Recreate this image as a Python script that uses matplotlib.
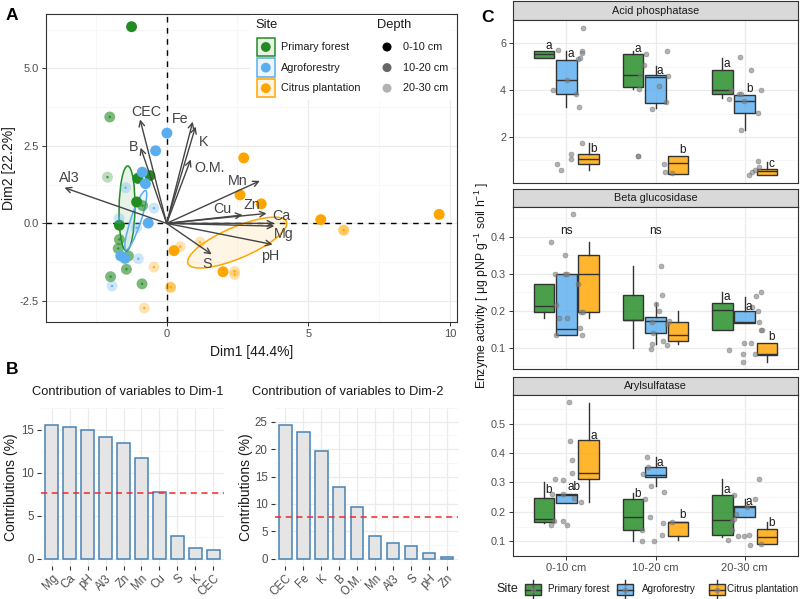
import matplotlib
matplotlib.use("Agg")
import matplotlib.pyplot as plt
from matplotlib.patches import Ellipse, Rectangle
from matplotlib.colors import to_rgba

plt.rcParams['font.family'] = ['Liberation Sans', 'DejaVu Sans']
plt.rcParams['mathtext.fontset'] = 'custom'
plt.rcParams['mathtext.rm'] = 'Liberation Sans'
plt.rcParams['mathtext.default'] = 'regular'

W, H = 800, 599

# ---------------- data ----------------
site_names = ['Primary forest', 'Agroforestry', 'Citrus plantation']
site_colors = ['#228B22', '#5AAEEF', '#FFA500']
depth_labels = ['0-10 cm', '10-20 cm', '20-30 cm']
depth_alpha = [1.0, 0.6, 0.3]

# PCA individuals (Dim1, Dim2, depth index)
forest_dim1 = [-1.24, -2.01, -2.09, -1.02, -0.59, -1.06, -0.85, -1.67, -1.67, -1.71, -1.35, -1.42, -1.98, -0.87]
forest_dim2 = [6.34, 3.43, 1.49, 1.45, 1.54, 0.69, 0.57, -0.06, -0.52, -0.81, -1.05, -1.48, -1.72, -1.95]
forest_depth = [0, 1, 2, 0, 0, 0, 1, 0, 1, 1, 1, 1, 1, 1]
agro_dim1 = [0.01, -0.39, -0.86, -0.75, -0.45, -0.65, -1.45, -1.68, -1.06, -1.62, -1.47, -1.00, -1.93]
agro_dim2 = [2.91, 2.34, 1.65, 1.28, 0.49, 0.01, 1.15, 0.16, -0.14, -1.05, -1.13, -1.14, -2.02]
agro_depth = [0, 0, 0, 0, 2, 0, 2, 2, 2, 0, 0, 2, 2]
citrus_dim1 = [2.72, 2.59, 3.34, 5.44, 6.25, 9.62, 1.18, 0.26, 0.48, -0.45, 0.14, 1.99, 2.40, 2.40, -0.79]
citrus_dim2 = [2.11, 0.92, 0.63, 0.12, -0.22, 0.29, -0.61, -0.88, -0.75, -1.41, -2.06, -1.56, -1.55, -1.65, -2.73]
citrus_depth = [0, 0, 0, 0, 1, 0, 2, 0, 2, 2, 1, 0, 2, 2, 2]

# concentration ellipses: centre x, centre y, major, minor, angle
ellipse_cx = [-1.40, -1.09, 2.49]
ellipse_cy = [0.48, 0.10, -0.62]
ellipse_major = [2.74, 2.04, 3.73]
ellipse_minor = [0.56, 0.36, 1.02]
ellipse_angle = [89, 70, 21]

# PCA variables
var_names = ['CEC', 'B', 'Fe', 'K', 'O.M.', 'Al3', 'Mn', 'Cu', 'Zn', 'Ca', 'Mg', 'pH', 'S']
var_dim1 = [-0.94, -0.92, 0.92, 1.02, 0.85, -3.61, 3.29, 2.68, 3.53, 3.80, 3.80, 3.74, 1.59]
var_dim2 = [3.35, 2.44, 3.28, 3.12, 2.06, 1.15, 1.37, 0.27, 0.32, 0.00, -0.09, -0.68, -1.00]
var_lab_x = [-0.71, -1.18, 0.47, 1.32, 1.53, -3.44, 2.50, 1.98, 3.00, 4.06, 4.12, 3.65, 1.41]
var_lab_y = [3.60, 2.47, 3.37, 2.63, 1.77, 1.45, 1.37, 0.46, 0.59, 0.24, -0.35, -1.05, -1.32]

# contributions
dim1_vars = ['Mg', 'Ca', 'pH', 'Al3', 'Zn', 'Mn', 'Cu', 'S', 'K', 'CEC']
dim1_contrib = [15.58, 15.33, 15.0, 14.13, 13.4, 11.7, 7.72, 2.68, 1.2, 1.01]
dim2_vars = ['CEC', 'Fe', 'K', 'B', 'O.M.', 'Mn', 'Al3', 'S', 'pH', 'Zn']
dim2_contrib = [24.4, 23.2, 19.7, 13.1, 9.4, 4.15, 2.95, 2.27, 1.1, 0.27]
expected_contrib = 100 / 13

# enzyme boxplots (whislo, q1, med, q3, whishi); order: depth x site
acid_stats = [(5.36, 5.36, 5.55, 5.67, 5.67), (3.29, 3.85, 4.44, 5.30, 5.69), (0.58, 0.86, 1.05, 1.27, 1.73),
              (4.05, 4.13, 4.63, 5.55, 5.69), (3.22, 3.47, 4.58, 4.63, 5.05), (0.43, 0.43, 0.89, 1.21, 1.21),
              (3.67, 3.85, 4.02, 4.88, 5.38), (2.30, 3.02, 3.53, 3.81, 3.81), (0.39, 0.39, 0.54, 0.63, 0.93)]
beta_stats = [(0.18, 0.196, 0.214, 0.273, 0.273), (0.135, 0.135, 0.151, 0.30, 0.30), (0.18, 0.196, 0.30, 0.352, 0.386),
              (0.098, 0.175, 0.175, 0.243, 0.322), (0.11, 0.139, 0.173, 0.183, 0.22), (0.11, 0.117, 0.134, 0.168, 0.198),
              (0.148, 0.148, 0.202, 0.221, 0.25), (0.166, 0.166, 0.168, 0.198, 0.237), (0.06, 0.08, 0.083, 0.113, 0.113)]
aryl_stats = [(0.163, 0.166, 0.176, 0.248, 0.303), (0.231, 0.231, 0.258, 0.261, 0.261), (0.232, 0.313, 0.331, 0.443, 0.571),
              (0.10, 0.139, 0.182, 0.242, 0.265), (0.289, 0.32, 0.325, 0.352, 0.386), (0.105, 0.119, 0.165, 0.167, 0.167),
              (0.115, 0.122, 0.171, 0.256, 0.311), (0.181, 0.181, 0.218, 0.22, 0.242), (0.091, 0.091, 0.116, 0.141, 0.166)]

acid_letters = ['a', 'a', 'b', 'a', 'a', 'b', 'a', 'b', 'c']
acid_letter_y = [5.9, 5.55, 1.48, 5.76, 4.84, 1.45, 5.12, 4.06, 0.86]
beta_letters = ['', '', '', '', '', '', 'a', 'a', 'b']
beta_letter_y = [0, 0, 0, 0, 0, 0, 0.237, 0.211, 0.13]
beta_ns = ['ns', 'ns', '']
beta_ns_y = 0.415
aryl_letters = ['b', 'ab', 'a', 'b', 'a', 'b', 'a', 'a', 'b']
aryl_letter_y = [0.275, 0.285, 0.459, 0.26, 0.366, 0.19, 0.273, 0.234, 0.163]

# raw observations (jittered along depth axis)
acid_obs_x = [0.19, -0.10, 0.18, 0.18, 0.13, 0.15, 0.01, -0.15, 0.11, 0.14, 0.18, 0.05, 0.05, -0.11, -0.06,
              0.89, 0.87, 0.83, 0.82, 0.80, 0.80, 0.96, 1.04, 1.13, 1.14, 1.12, 1.10, 1.11, 1.18,
              1.95, 2.07, 1.85, 1.82, 1.94, 1.96, 1.99, 2.19, 2.15, 1.96, 2.15, 2.05, 2.12, 2.16, 2.08]
acid_obs_y = [6.64, 5.72, 5.66, 5.58, 5.33, 5.37, 4.44, 3.99, 3.85, 3.27, 1.76, 1.27, 1.07, 0.87, 0.58,
              5.55, 5.09, 4.63, 4.06, 1.21, 1.21, 3.19, 4.16, 5.69, 4.6, 3.5, 0.87, 0.5, 0.45,
              5.4, 4.88, 4.02, 3.64, 3.85, 3.83, 3.53, 4.02, 3.03, 2.28, 0.98, 0.39, 0.6, 0.7, 0.5]
beta_obs_x = [0.07, -0.17, -0.02, -0.13, -0.02, 0.01, 0.13, -0.12, -0.08, 0.01, 0.16, 0.19, 0.15, -0.12, 0.17,
              1.06, 1.07, 1.01, 1.04, 0.96, 1.15, 1.13, 0.97, 0.96, 0.95, 1.08, 1.13,
              2.18, 2.13, 2.08, 2.15, 2.16, 2.18, 2.20, 1.99, 2.07, 1.98, 2.12, 1.83, 1.98]
beta_obs_y = [0.462, 0.387, 0.351, 0.30, 0.30, 0.30, 0.273, 0.215, 0.18, 0.18, 0.196, 0.196, 0.153, 0.135, 0.135,
              0.322, 0.243, 0.218, 0.2, 0.17, 0.172, 0.165, 0.14, 0.11, 0.097, 0.117, 0.108,
              0.25, 0.239, 0.21, 0.198, 0.168, 0.148, 0.147, 0.112, 0.112, 0.083, 0.083, 0.094, 0.06]
aryl_obs_x = [0.03, 0.04, 0.06, 0.06, -0.13, -0.04, -0.16, -0.04, 0.09, 0.16, -0.14, -0.04, -0.17, 0.01,
              0.91, 0.92, 0.86, 0.95, 1.09, 0.88, 0.94, 0.85, 0.85, 0.98, 1.08, 1.18, 1.07,
              1.88, 2.16, 2.12, 2.03, 1.90, 1.86, 1.88, 1.86, 1.93, 1.99, 2.05, 1.81, 2.06, 2.19]
aryl_obs_y = [0.572, 0.442, 0.375, 0.333, 0.313, 0.307, 0.26, 0.26, 0.248, 0.232, 0.17, 0.17, 0.157, 0.157,
              0.388, 0.352, 0.327, 0.289, 0.267, 0.242, 0.181, 0.139, 0.1, 0.1, 0.163, 0.165, 0.121,
              0.256, 0.311, 0.242, 0.218, 0.194, 0.17, 0.175, 0.139, 0.118, 0.118, 0.12, 0.103, 0.089, 0.091]

# ---------------- helpers ----------------
fig = plt.figure(figsize=(8, 5.99), dpi=100)


def px_axes(l, t, r, b):
    return fig.add_axes([l / W, 1 - b / H, (r - l) / W, (b - t) / H])


def ftext(x, y, s, **kw):
    fig.text(x / W, 1 - y / H, s, **kw)


GRID = '#EBEBEB'
TICKC = '#4D4D4D'

# ---------------- panel A ----------------
axA = px_axes(46, 14, 457, 322)
axA.set_xlim(-4.26, 10.25)
axA.set_ylim(-3.18, 6.75)
axA.set_xticks([0, 5, 10])
axA.set_xticklabels(['0', '5', '10'])
axA.set_xticks([-2.5, 2.5, 7.5], minor=True)
axA.set_yticks([-2.5, 0, 2.5, 5.0])
axA.set_yticklabels(['-2.5', '0.0', '2.5', '5.0'])
axA.set_yticks([-1.25, 1.25, 3.75, 6.25], minor=True)
axA.grid(which='major', color=GRID, lw=0.9)
axA.grid(which='minor', color='#F4F4F4', lw=0.5)
axA.set_axisbelow(True)
axA.tick_params(which='major', length=3, width=0.7, color='#333333', labelsize=8,
                labelcolor=TICKC, pad=2)
axA.tick_params(which='minor', length=0)
for sp in axA.spines.values():
    sp.set_color('#333333')
    sp.set_linewidth(0.8)
axA.axvline(0, color='black', lw=1, ls=(0, (4, 4)), zorder=1)
axA.axhline(0, color='black', lw=1, ls=(0, (4, 4)), zorder=1)

for i in range(3):
    e = Ellipse((ellipse_cx[i], ellipse_cy[i]), ellipse_major[i], ellipse_minor[i], angle=ellipse_angle[i],
                facecolor=to_rgba(site_colors[i], 0.1), edgecolor=site_colors[i], lw=1.1, zorder=2)
    axA.add_patch(e)

for xs, ys, ds, col in [(forest_dim1, forest_dim2, forest_depth, site_colors[0]),
                        (agro_dim1, agro_dim2, agro_depth, site_colors[1]),
                        (citrus_dim1, citrus_dim2, citrus_depth, site_colors[2])]:
    for x, y, d in zip(xs, ys, ds):
        axA.scatter(x, y, s=62, color=col, alpha=depth_alpha[d], edgecolors='none', zorder=3)
        axA.scatter(x, y, s=3, color=col, alpha=0.9, edgecolors='none', zorder=3)

for name, x, y, lx, ly in zip(var_names, var_dim1, var_dim2, var_lab_x, var_lab_y):
    axA.annotate('', xy=(x, y), xytext=(0, 0),
                 arrowprops=dict(arrowstyle='->', color='#444444', lw=1.0, mutation_scale=10,
                                 shrinkA=0, shrinkB=0), zorder=4)
    axA.text(lx, ly, name, fontsize=10.3, color='#444444', ha='center', va='center', zorder=5)

ftext(251.5, 352, 'Dim1 [44.4%]', fontsize=10, ha='center', va='center', color='#1A1A1A')
ftext(9.5, 168, 'Dim2 [22.2%]', fontsize=10, ha='center', va='center', rotation=90, color='#1A1A1A')

# legend of panel A
legA = px_axes(250, 15, 452, 100)
legA.set_xlim(250, 452)
legA.set_ylim(100, 15)
legA.axis('off')
legA.add_patch(Rectangle((250, 15), 202, 85, facecolor='white', edgecolor='none'))
legA.text(255, 25, 'Site', fontsize=9.3, va='center', color='#1A1A1A')
legA.text(377, 25, 'Depth', fontsize=9.3, va='center', color='#1A1A1A')
for i, (name, col) in enumerate(zip(site_names, site_colors)):
    cy = 47 + 20.6 * i
    legA.add_patch(Rectangle((256.5, cy - 9.3), 18.6, 18.6, facecolor=to_rgba(col, 0.1),
                             edgecolor=col, lw=1.1))
    legA.scatter(265.8, cy, s=50, color=col, edgecolors='none')
    legA.text(281, cy, name, fontsize=7.8, va='center', color='#1A1A1A')
for i, lab in enumerate(depth_labels):
    cy = 47 + 20.6 * i
    legA.scatter(387, cy, s=42, color='black', alpha=depth_alpha[i], edgecolors='none')
    legA.text(403, cy, lab, fontsize=7.8, va='center', color='#1A1A1A')

# ---------------- panel B ----------------
for rect, names, vals, ylims, yt, title, tx, ylx in [
        ((41, 408, 224, 565.5), dim1_vars, dim1_contrib, (-0.78, 16.34), [0, 5, 10, 15],
         'Contribution of variables to Dim-1', 32, 11),
        ((274.5, 408, 457.8, 565.5), dim2_vars, dim2_contrib, (-1.23, 25.6), [0, 5, 10, 15, 20, 25],
         'Contribution of variables to Dim-2', 252, 246)]:
    ax = px_axes(*rect)
    xs = list(range(len(vals)))
    ax.bar(xs, vals, width=0.7, color='#E5E5E5', edgecolor='#4682B4', lw=1.1, zorder=2)
    ax.axhline(expected_contrib, color='#F0282A', lw=1.1, ls=(0, (4, 3)), zorder=3)
    ax.set_xlim(-0.6, len(vals) - 0.4)
    ax.set_ylim(*ylims)
    ax.set_yticks(yt)
    ax.set_yticks([v + 2.5 for v in yt], minor=True)
    ax.set_xticks(xs)
    ax.set_xticklabels(names, rotation=45, ha='right', va='top', rotation_mode='anchor')
    ax.grid(which='major', color=GRID, lw=0.9)
    ax.grid(which='minor', axis='y', color='#F4F4F4', lw=0.5)
    ax.set_axisbelow(True)
    ax.tick_params(which='major', length=3, width=0.8, color='#333333', labelsize=8.3,
                   labelcolor=TICKC, pad=2)
    ax.tick_params(which='minor', length=0)
    for sp in ax.spines.values():
        sp.set_visible(False)
    ftext(tx, 392, title, fontsize=9.3, va='center', color='#1A1A1A')
    ftext(ylx, 486.7, 'Contributions (%)', fontsize=10, ha='center', va='center', rotation=90,
          color='#1A1A1A')

# ---------------- panel C ----------------
facets = [
    ('Acid phosphatase', (513, 20, 798, 182.7), 1.0, (0.05, 6.94), [2, 4, 6], ['2', '4', '6'],
     acid_stats, acid_letters, acid_letter_y, acid_obs_x, acid_obs_y),
    ('Beta glucosidase', (513, 207.3, 798, 369), 188.5, (0.042, 0.48), [0.1, 0.2, 0.3, 0.4],
     ['0.1', '0.2', '0.3', '0.4'], beta_stats, beta_letters, beta_letter_y, beta_obs_x, beta_obs_y),
    ('Arylsulfatase', (513, 395, 798, 556), 376.5, (0.066, 0.597), [0.1, 0.2, 0.3, 0.4, 0.5],
     ['0.1', '0.2', '0.3', '0.4', '0.5'], aryl_stats, aryl_letters, aryl_letter_y, aryl_obs_x, aryl_obs_y),
]
dodge = [-0.25, 0.0, 0.25]
for k, (fname, rect, strip_top, ylim, yt, ytl, stats, letters, lety, ox, oy) in enumerate(facets):
    l, t, r, b = rect
    strip = px_axes(l, strip_top, r, t)
    strip.set_facecolor('#D9D9D9')
    strip.set_xticks([])
    strip.set_yticks([])
    for sp in strip.spines.values():
        sp.set_color('#333333')
        sp.set_linewidth(0.8)
    strip.text(0.5, 0.5, fname, transform=strip.transAxes, ha='center', va='center',
               fontsize=7.8, color='#1A1A1A')

    ax = px_axes(l, t, r, b)
    ax.set_xlim(-0.6, 2.6)
    ax.set_ylim(*ylim)
    ax.set_yticks(yt)
    ax.set_yticklabels(ytl)
    step = yt[1] - yt[0]
    ax.set_yticks([v - step / 2 for v in yt] + [yt[-1] + step / 2], minor=True)
    ax.set_xticks([0, 1, 2])
    ax.grid(which='major', color=GRID, lw=0.9)
    ax.grid(which='minor', axis='y', color='#F4F4F4', lw=0.5)
    ax.set_axisbelow(True)
    ax.tick_params(which='major', length=3, width=0.7, color='#333333', labelsize=7.8,
                   labelcolor=TICKC, pad=2)
    ax.tick_params(which='minor', length=0)
    if k < 2:
        ax.tick_params(axis='x', length=0, labelbottom=False)
    else:
        ax.set_xticklabels(depth_labels, fontsize=8)
    for sp in ax.spines.values():
        sp.set_color('#333333')
        sp.set_linewidth(0.8)

    positions = []
    bstats = []
    for j, st in enumerate(stats):
        d, s = divmod(j, 3)
        positions.append(d + dodge[s])
        bstats.append(dict(whislo=st[0], q1=st[1], med=st[2], q3=st[3], whishi=st[4], fliers=[]))
    parts = ax.bxp(bstats, positions=positions, widths=0.23, patch_artist=True, showcaps=False,
                   showfliers=False, manage_ticks=False,
                   boxprops=dict(edgecolor='#333333', lw=1.0),
                   medianprops=dict(color='#333333', lw=1.0),
                   whiskerprops=dict(color='#333333', lw=1.0))
    for j, box in enumerate(parts['boxes']):
        box.set_facecolor(to_rgba(site_colors[j % 3], 0.82))
        box.set_zorder(2)
    ax.scatter(ox, oy, s=13, color='#808080', alpha=0.6, edgecolors='#666666', linewidths=0.4,
               zorder=4)
    for j, (lt, ly) in enumerate(zip(letters, lety)):
        if lt:
            ax.text(positions[j] + 0.015, ly, lt, fontsize=8.5, ha='left', va='center',
                    color='#1A1A1A', zorder=5)
    if fname == 'Beta glucosidase':
        for c, lab in enumerate(beta_ns):
            if lab:
                ax.text(c, beta_ns_y, lab, fontsize=8.5, ha='center', va='center', color='#1A1A1A')

ftext(482, 285, r'Enzyme activity [ μg pNP g$^{-1}$ soil h$^{-1}$ ]', fontsize=8.8, ha='center',
      va='center', rotation=90, color='#1A1A1A')

# legend of panel C
legC = px_axes(490, 577, 800, 599)
legC.set_xlim(490, 800)
legC.set_ylim(599, 577)
legC.axis('off')
legC.text(496, 589, 'Site', fontsize=9, va='center', color='#1A1A1A')
for name, col, kx, lx in zip(site_names, site_colors, [525, 617.3, 709], [548.3, 641.7, 726.7]):
    legC.plot([kx + 8, kx + 8], [580, 598], color='#333333', lw=1.0)
    legC.add_patch(Rectangle((kx, 584), 16, 11, facecolor=to_rgba(col, 0.82),
                             edgecolor='#333333', lw=1.0, zorder=3))
    legC.plot([kx, kx + 16], [589.5, 589.5], color='#333333', lw=1.0, zorder=4)
    legC.scatter(kx + 8, 589.5, s=10, color='#808080', alpha=0.6, zorder=5)
    legC.text(lx, 589.5, name, fontsize=7.1, va='center', color='#1A1A1A')

# panel tags
ftext(12, 16, 'A', fontsize=12.5, fontweight='bold', ha='center', va='center')
ftext(12, 370, 'B', fontsize=12.5, fontweight='bold', ha='center', va='center')
ftext(488, 18, 'C', fontsize=12.5, fontweight='bold', ha='center', va='center')

fig.savefig('out.png', dpi=100)
